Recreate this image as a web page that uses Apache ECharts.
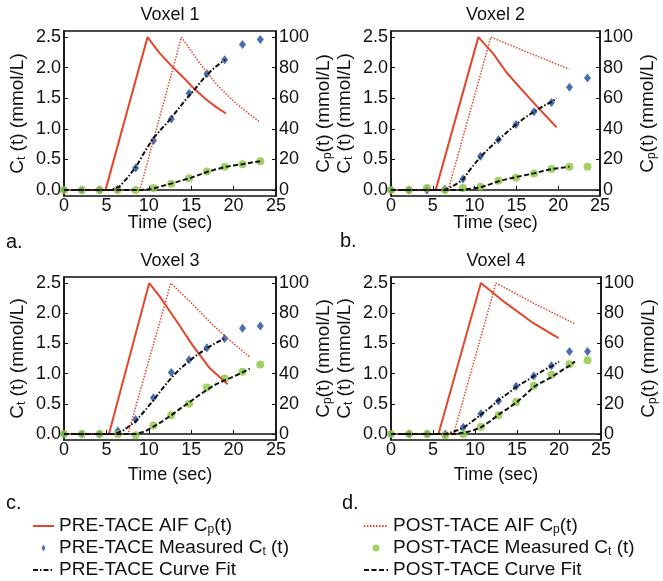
<!DOCTYPE html>
<html>
<head>
<meta charset="utf-8">
<script src="https://cdn.jsdelivr.net/npm/echarts@6/dist/echarts.min.js"></script>
<style>
  html, body { margin: 0; padding: 0; background: #fff; }
  #chart { width: 663px; height: 581px; }
</style>
</head>
<body>
<div id="chart"></div>
<script>
// axis ticks
const xTicks = [0, 5, 10, 15, 20, 25]
const ctTicks = [0, 0.5, 1.0, 1.5, 2.0, 2.5]
const cpTicks = [0, 20, 40, 60, 80, 100]
const panelTitles = ['Voxel 1', 'Voxel 2', 'Voxel 3', 'Voxel 4']
const panelLetters = ['a.', 'b.', 'c.', 'd.']

// Voxel 1
const v1MeasT = [0, 2.1, 4.2, 6.3, 8.45, 10.55, 12.65, 14.75, 16.85, 18.95, 21.05, 23.15]
const v1PreMeas = [0, 0, 0, 0.01, 0.36, 0.81, 1.16, 1.58, 1.90, 2.13, 2.38, 2.46]
const v1PostMeas = [0, 0, 0, 0, 0, 0.03, 0.10, 0.19, 0.30, 0.38, 0.42, 0.47]
const v1PreAifT = [0, 4.9, 9.85, 11.2, 12.7, 14, 15.2, 16.8, 18, 19.1]
const v1PreAifC = [0, 0, 100, 90, 81, 74, 67, 59, 54, 50]
const v1PostAifT = [0, 8.95, 13.85, 16, 18, 20, 22, 23.1]
const v1PostAifC = [0, 0, 100, 83, 69, 58, 49, 44.5]
const v1PreFitT = [0, 5.5, 6.5, 7.5, 8.5, 9.5, 10.5, 11.5, 12.5, 13.5, 14.5, 15.5, 16.5, 17.5, 18.5, 19.0]
const v1PreFit = [0, 0, 0.05, 0.2, 0.38, 0.62, 0.84, 1.0, 1.15, 1.33, 1.5, 1.66, 1.83, 1.97, 2.08, 2.13]
const v1PostFitT = [0, 9, 10, 11, 12, 13, 14, 15, 16, 17, 18, 19, 20, 21, 22, 23.15]
const v1PostFit = [0, 0, 0.01, 0.04, 0.08, 0.115, 0.16, 0.2, 0.25, 0.3, 0.34, 0.375, 0.4, 0.42, 0.445, 0.47]

// Voxel 2
const v2MeasT = [0, 2.15, 4.3, 6.45, 8.6, 10.7, 12.85, 14.95, 17.1, 19.2, 21.35, 23.5]
const v2PreMeas = [0, 0, 0, 0.01, 0.18, 0.55, 0.82, 1.07, 1.28, 1.43, 1.68, 1.83]
const v2PostMeas = [0, 0, 0.03, 0, 0.03, 0.05, 0.15, 0.20, 0.27, 0.34, 0.38, 0.38]
const v2PreAifT = [0, 5.35, 10.45, 12.25, 13.8, 15, 17.4, 19.8]
const v2PreAifC = [0, 0, 100, 89, 77, 69.5, 55, 41]
const v2PostAifT = [0, 6.85, 11.95, 16.6, 21.3]
const v2PostAifC = [0, 0, 100, 89.5, 79]
const v2PreFitT = [0, 6.3, 7, 7.5, 8, 8.6, 9.5, 10.7, 11.8, 12.85, 14, 14.95, 16, 17.1, 18.2, 19.2, 19.8]
const v2PreFit = [0, 0, 0.03, 0.07, 0.11, 0.17, 0.34, 0.54, 0.69, 0.82, 0.96, 1.07, 1.18, 1.28, 1.37, 1.44, 1.5]
const v2PostFitT = [0, 8.5, 9.5, 10.7, 11.8, 12.85, 14, 14.95, 16, 17.1, 18.2, 19.2, 20.3, 21.35]
const v2PostFit = [0, 0, 0.02, 0.04, 0.09, 0.14, 0.18, 0.21, 0.24, 0.27, 0.31, 0.34, 0.36, 0.38]

// Voxel 3
const v3MeasT = [0, 2.1, 4.2, 6.35, 8.45, 10.55, 12.65, 14.75, 16.85, 18.95, 21.05, 23.15]
const v3PreMeas = [0, 0, 0, 0.05, 0.24, 0.60, 1.02, 1.23, 1.43, 1.58, 1.75, 1.79]
const v3PostMeas = [0, 0, 0, 0, -0.02, 0.14, 0.31, 0.50, 0.77, 0.92, 1.03, 1.15]
const v3PreAifT = [0, 5.3, 10.05, 11.3, 13.3, 15.25, 17.2, 19.3]
const v3PreAifC = [0, 0, 100, 91, 74.5, 58, 43.5, 33]
const v3PostAifT = [0, 7.55, 12.6, 15.25, 17.6, 19.55, 21.9]
const v3PostAifC = [0, 0, 100, 85.5, 72, 62, 51]
const v3PreFitT = [0, 6, 7, 7.5, 8.45, 9.5, 10.55, 11.6, 12.65, 13.7, 14.75, 15.8, 16.85, 17.9, 19.0]
const v3PreFit = [0, 0, 0.06, 0.11, 0.21, 0.38, 0.56, 0.75, 0.93, 1.08, 1.21, 1.32, 1.42, 1.51, 1.58]
const v3PostFitT = [0, 8.5, 9.5, 10.55, 11.6, 12.65, 13.7, 14.75, 15.8, 16.85, 17.9, 18.95, 20, 21.05, 21.9]
const v3PostFit = [0, 0, 0.04, 0.12, 0.21, 0.31, 0.42, 0.52, 0.63, 0.73, 0.82, 0.89, 0.95, 1.02, 1.08]

// Voxel 4
const v4MeasT = [0, 2.15, 4.3, 6.45, 8.6, 10.7, 12.8, 14.9, 17.0, 19.1, 21.25, 23.4]
const v4PreMeas = [0, 0, 0, 0, 0.11, 0.335, 0.545, 0.79, 0.96, 1.13, 1.365, 1.365]
const v4PostMeas = [0, 0, 0, -0.02, 0, 0.12, 0.31, 0.53, 0.80, 0.98, 1.155, 1.22]
const v4PreAifT = [0, 5.65, 10.7, 13.6, 16.8, 19.95]
const v4PreAifC = [0, 0, 100, 87, 74, 63.5]
const v4PostAifT = [0, 7.45, 12.5, 17.2, 21.9]
const v4PostAifC = [0, 0, 100, 86, 73]
const v4PreFitT = [0, 6.5, 7.5, 8.6, 9.6, 10.7, 11.8, 12.8, 13.9, 14.9, 16, 17, 18, 19.1, 20]
const v4PreFit = [0, 0, 0.04, 0.1, 0.2, 0.32, 0.44, 0.56, 0.67, 0.78, 0.87, 0.96, 1.04, 1.12, 1.2]
const v4PostFitT = [0, 7.5, 8.6, 9.6, 10.7, 11.8, 12.8, 13.9, 14.9, 16, 17, 18, 19.1, 20.2, 21.25, 21.9]
const v4PostFit = [0, 0, 0.02, 0.05, 0.11, 0.21, 0.32, 0.42, 0.52, 0.65, 0.78, 0.86, 0.94, 1.04, 1.13, 1.2]

const voxels = [
  { measT: v1MeasT, preMeas: v1PreMeas, postMeas: v1PostMeas, preAifT: v1PreAifT, preAif: v1PreAifC, postAifT: v1PostAifT, postAif: v1PostAifC, preFitT: v1PreFitT, preFit: v1PreFit, postFitT: v1PostFitT, postFit: v1PostFit },
  { measT: v2MeasT, preMeas: v2PreMeas, postMeas: v2PostMeas, preAifT: v2PreAifT, preAif: v2PreAifC, postAifT: v2PostAifT, postAif: v2PostAifC, preFitT: v2PreFitT, preFit: v2PreFit, postFitT: v2PostFitT, postFit: v2PostFit },
  { measT: v3MeasT, preMeas: v3PreMeas, postMeas: v3PostMeas, preAifT: v3PreAifT, preAif: v3PreAifC, postAifT: v3PostAifT, postAif: v3PostAifC, preFitT: v3PreFitT, preFit: v3PreFit, postFitT: v3PostFitT, postFit: v3PostFit },
  { measT: v4MeasT, preMeas: v4PreMeas, postMeas: v4PostMeas, preAifT: v4PreAifT, preAif: v4PreAifC, postAifT: v4PostAifT, postAif: v4PostAifC, preFitT: v4PreFitT, preFit: v4PreFit, postFitT: v4PostFitT, postFit: v4PostFit }
]

const NAMES = {
  preAif: 'PRE-TACE AIF Cp(t)',
  preMeas: 'PRE-TACE Measured Ct (t)',
  preFit: 'PRE-TACE Curve Fit',
  postAif: 'POST-TACE AIF Cp(t)',
  postMeas: 'POST-TACE Measured Ct (t)',
  postFit: 'POST-TACE Curve Fit'
}
const richNames = {
  'PRE-TACE AIF Cp(t)': 'PRE-TACE AIF C{s|p}(t)',
  'PRE-TACE Measured Ct (t)': 'PRE-TACE Measured C{s|t} (t)',
  'POST-TACE AIF Cp(t)': 'POST-TACE AIF C{s|p}(t)',
  'POST-TACE Measured Ct (t)': 'POST-TACE Measured C{s|t} (t)'
}

const FONT = 'Liberation Sans, Arial, sans-serif'
const RED = '#e4462c'
const BLUE = '#1d4a9e'
const GREEN = '#8cc63f'

// panel placement
const grids = [
  { left: 64, top: 31, width: 212, height: 165 },
  { left: 391, top: 31, width: 209, height: 165 },
  { left: 64, top: 277, width: 212, height: 163 },
  { left: 391, top: 277, width: 210, height: 163 }
]
const timeGap = [18, 18, 26, 26]

const zip = (t, v) => t.map((x, i) => [x, v[i]])
const subRich = {
  s: { fontSize: 12, fontFamily: FONT, color: '#111', verticalAlign: 'bottom', lineHeight: 16 }
}

const xAxes = []
const yAxes = []
const series = []
const graphic = []

grids.forEach((g, i) => {
  xAxes.push({
    type: 'value', gridIndex: i, min: 0, max: 25, interval: 5,
    name: 'Time (sec)', nameLocation: 'middle', nameGap: timeGap[i], nameMoveOverlap: false,
    nameTextStyle: { fontSize: 18, fontFamily: FONT, color: '#111', verticalAlign: 'top' },
    axisLine: { show: true, lineStyle: { color: '#111', width: 1.5 } },
    axisTick: { inside: true, length: 4, lineStyle: { color: '#111' } },
    axisLabel: { fontSize: 18, fontFamily: FONT, color: '#111', margin: 1 },
    splitLine: { show: false }
  })
  yAxes.push({
    type: 'value', gridIndex: i, min: -0.1, max: 2.6, position: 'left',
    name: 'C{s|t} (t) (mmol/L)', nameLocation: 'middle', nameRotate: 90, nameGap: 36,
    nameTextStyle: { fontSize: 19, fontFamily: FONT, color: '#111', lineHeight: 21, rich: subRich },
    axisLine: { show: true, lineStyle: { color: '#111', width: 1.5 } },
    axisTick: { inside: true, length: 4, customValues: ctTicks, lineStyle: { color: '#111' } },
    axisLabel: { fontSize: 18, fontFamily: FONT, color: '#111', margin: 3, customValues: ctTicks, formatter: v => v.toFixed(1) },
    splitLine: { show: false }
  })
  yAxes.push({
    type: 'value', gridIndex: i, min: -4, max: 104, position: 'right',
    name: 'C{s|p}(t) (mmol/L)', nameLocation: 'middle', nameRotate: 90, nameGap: 33,
    nameTextStyle: { fontSize: 19, fontFamily: FONT, color: '#111', lineHeight: 21, rich: subRich },
    axisLine: { show: true, lineStyle: { color: '#111', width: 1.5 } },
    axisTick: { inside: true, length: 4, customValues: cpTicks, lineStyle: { color: '#111' } },
    axisLabel: { fontSize: 18, fontFamily: FONT, color: '#111', margin: 3, customValues: cpTicks },
    splitLine: { show: false }
  })

  const d = voxels[i]
  const lineBase = { type: 'line', xAxisIndex: i, symbol: 'none', animation: false }
  series.push(
    { ...lineBase, name: NAMES.preAif, yAxisIndex: 2 * i + 1, data: zip(d.preAifT, d.preAif),
      itemStyle: { color: RED, opacity: 0 }, lineStyle: { color: RED, width: 2 } },
    { ...lineBase, name: NAMES.postAif, yAxisIndex: 2 * i + 1, data: zip(d.postAifT, d.postAif),
      itemStyle: { color: RED, opacity: 0 }, lineStyle: { color: RED, width: 1.5, type: [1.5, 1.5] } },
    { ...lineBase, name: NAMES.preFit, yAxisIndex: 2 * i, data: zip(d.preFitT, d.preFit), z: 3,
      itemStyle: { color: '#111', opacity: 0 }, lineStyle: { color: '#111', width: 2, type: [5, 2, 1.5, 2] } },
    { ...lineBase, name: NAMES.postFit, yAxisIndex: 2 * i, data: zip(d.postFitT, d.postFit), z: 3,
      itemStyle: { color: '#111', opacity: 0 }, lineStyle: { color: '#111', width: 2, type: [5, 2.5] } },
    { type: 'scatter', name: NAMES.preMeas, xAxisIndex: i, yAxisIndex: 2 * i, data: zip(d.measT, d.preMeas),
      symbol: 'diamond', symbolSize: [7, 9], itemStyle: { color: BLUE }, z: 2, animation: false },
    { type: 'scatter', name: NAMES.postMeas, xAxisIndex: i, yAxisIndex: 2 * i, data: zip(d.measT, d.postMeas),
      symbol: 'circle', symbolSize: 8, itemStyle: { color: GREEN }, z: 2, animation: false }
  )

  graphic.push({
    type: 'text', x: g.left + g.width / 2, y: g.top - 16,
    style: { text: panelTitles[i], fontSize: 18, fontFamily: FONT, fill: '#111', align: 'center', verticalAlign: 'middle' }
  })
})

const letterPos = [[6, 242], [340, 241], [6, 503], [342, 503]]
letterPos.forEach((p, i) => {
  graphic.push({
    type: 'text', x: p[0], y: p[1],
    style: { text: panelLetters[i], fontSize: 20, fontFamily: FONT, fill: '#111', align: 'left', verticalAlign: 'middle' }
  })
})

const hideSym = { opacity: 0 }
const diamondIcon = 'path://M4,0L7,5.5L4,11L1,5.5Z'
const legendBase = {
  type: 'plain', orient: 'vertical', itemHeight: 7, itemGap: 2, height: 75, padding: 0,
  formatter: name => richNames[name] || name,
  textStyle: { fontSize: 19, fontFamily: FONT, color: '#111', lineHeight: 20, rich: subRich },
  selectedMode: false
}

const option = {
  backgroundColor: '#fff',
  animation: false,
  grid: grids.map(g => ({ ...g, show: true, borderColor: '#111', borderWidth: 1.5, backgroundColor: 'transparent' })),
  xAxis: xAxes,
  yAxis: yAxes,
  legend: [
    { ...legendBase, left: 32, top: 516, itemWidth: 21,
      data: [{ name: NAMES.preAif, itemStyle: hideSym }, { name: NAMES.preMeas, icon: diamondIcon },
        { name: NAMES.preFit, itemStyle: hideSym }] },
    { ...legendBase, left: 363, top: 516, itemWidth: 24,
      data: [{ name: NAMES.postAif, itemStyle: hideSym }, NAMES.postMeas, { name: NAMES.postFit, itemStyle: hideSym }] }
  ],
  graphic: graphic,
  series: series
}

const myChart = echarts.init(document.getElementById('chart'), null, { renderer: 'canvas' })
myChart.setOption(option)
</script>
</body>
</html>
